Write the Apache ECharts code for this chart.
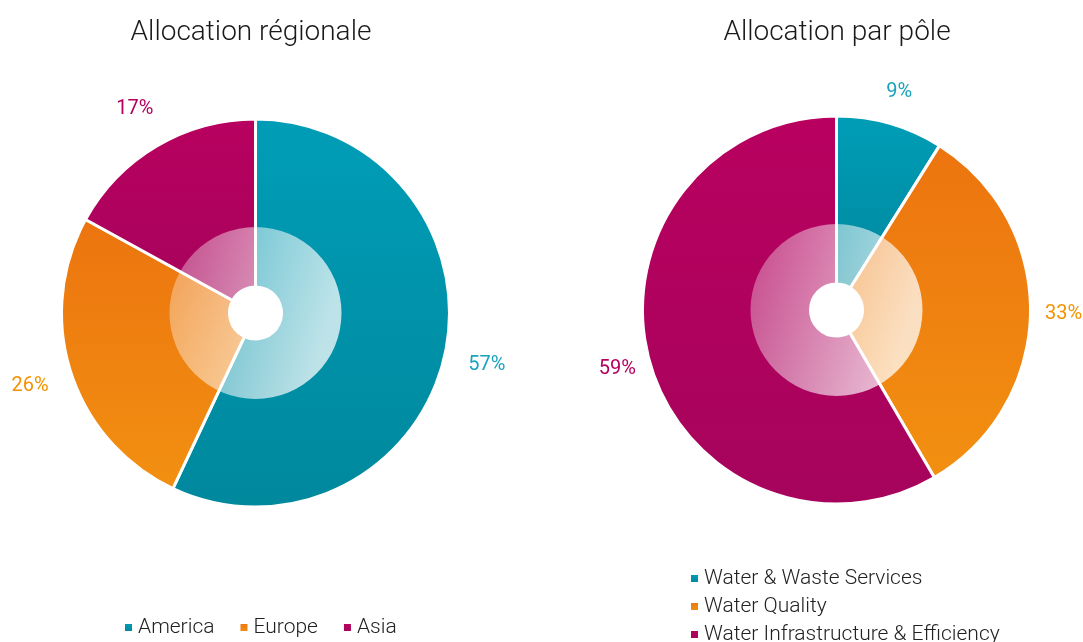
<!DOCTYPE html>
<html>
<head>
<meta charset="utf-8">
<script src="https://cdn.jsdelivr.net/npm/echarts@6/dist/echarts.min.js"></script>
<style>
  html, body { margin: 0; padding: 0; background: #fff; }
  #renderChart { width: 1083px; height: 642px; }
</style>
</head>
<body>
<div id="renderChart"></div>
<script>
// data
const regionTitle = 'Allocation régionale';
const regionNames = ['America', 'Europe', 'Asia'];
const regionValues = [57, 26, 17];

const poleTitle = 'Allocation par pôle';
const poleNames = ['Water & Waste Services', 'Water Quality', 'Water Infrastructure & Efficiency'];
const poleValues = [9, 33, 59];

// colours: [top, bottom] of each slice gradient + label colour
const sliceColors = [
  { top: '#009db7', bottom: '#00889d', label: '#1aa3bd' },
  { top: '#ec740f', bottom: '#f29011', label: '#f39200' },
  { top: '#b8005f', bottom: '#a6045c', label: '#b5005e' }
];

const font = 'Roboto';

function grad(c) {
  return new echarts.graphic.LinearGradient(0, 0, 0, 1, [
    { offset: 0, color: c.top },
    { offset: 1, color: c.bottom }
  ]);
}

function buildSeries(names, values, center, labelRadius) {
  const main = {
    type: 'pie',
    center: center,
    radius: [26, 194],
    startAngle: 90,
    silent: true,
    label: { show: false },
    labelLine: { show: false },
    itemStyle: { borderColor: '#fff', borderWidth: 3 },
    data: names.map((n, i) => ({
      name: n,
      value: values[i],
      itemStyle: { color: grad(sliceColors[i]) }
    }))
  };
  // translucent white ring around the hole
  const glow = {
    type: 'pie',
    center: center,
    radius: [26, 86],
    silent: true,
    label: { show: false },
    labelLine: { show: false },
    itemStyle: {
      color: new echarts.graphic.LinearGradient(0, 0, 1, 0.3, [
        { offset: 0, color: 'rgba(255,255,255,0.28)' },
        { offset: 1, color: 'rgba(255,255,255,0.74)' }
      ])
    },
    data: [{ name: '', value: 1 }]
  };
  const labels = {
    type: 'pie',
    center: center,
    radius: [labelRadius - 6, labelRadius + 6],
    startAngle: 90,
    silent: true,
    itemStyle: { color: 'rgba(0,0,0,0)' },
    labelLine: { show: false },
    label: {
      show: true,
      position: 'inside',
      formatter: '{c}%',
      fontFamily: font,
      fontSize: 20,
      fontWeight: 400
    },
    data: names.map((n, i) => ({
      name: n,
      value: values[i],
      label: { color: sliceColors[i].label }
    }))
  };
  return [main, glow, labels];
}

const myChart = echarts.init(document.getElementById('renderChart'));

const option = {
  animation: false,
  title: [
    {
      text: regionTitle, left: 246, top: 14, textAlign: 'center',
      textStyle: { fontFamily: font, fontSize: 28, fontWeight: 300, color: '#1a1a1a' }
    },
    {
      text: poleTitle, left: 832, top: 14, textAlign: 'center',
      textStyle: { fontFamily: font, fontSize: 28, fontWeight: 300, color: '#1a1a1a' }
    }
  ],
  legend: [
    {
      data: regionNames,
      left: 118, top: 612,
      icon: 'rect', itemWidth: 9, itemHeight: 9, itemGap: 24,
      textStyle: { fontFamily: font, fontSize: 21, fontWeight: 300, color: '#222' }
    },
    {
      data: poleNames,
      orient: 'vertical',
      left: 684, top: 563, height: 120,
      icon: 'rect', itemWidth: 9, itemHeight: 9, itemGap: 7,
      textStyle: { fontFamily: font, fontSize: 21, fontWeight: 300, color: '#222' }
    }
  ],
  series: [
    ...buildSeries(regionNames, regionValues, [255.5, 313], 234),
    ...buildSeries(poleNames, poleValues, [836.5, 310], 224)
  ]
};

myChart.setOption(option);
</script>
</body>
</html>
